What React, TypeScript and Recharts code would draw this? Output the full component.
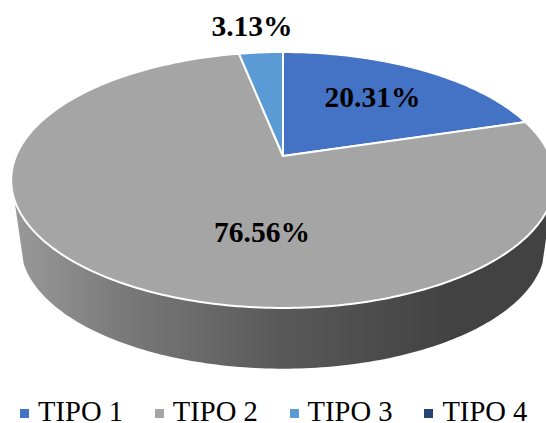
import React from "react";
import { PieChart, Pie, Cell, Legend } from "recharts";

const categories = ["TIPO 1", "TIPO 2", "TIPO 3", "TIPO 4"];
const shares = [20.31, 76.56, 3.13, 0];
const colors = ["#4472C4", "#A5A5A5", "#5B9BD5", "#264478"];

const tableData = categories.map((name, i) => ({ name, value: shares[i] }));

const FONT = "'Liberation Serif', 'Times New Roman', serif";

// Perspective of the tilted disc
const TILT = 0.1875;
const SQUASH = 0.4625;
const BASE_SCALE = 0.965;
const BASE_DROP = 66;
// The wall's side edges sit where the disc's rim turns away from the viewer
const WALL_EDGE = -0.32;

// Label offsets from the pie centre
const labelOffsets = [
  { dx: 89.5, dy: -49.5 },
  { dx: -21, dy: 85.5 },
  { dx: -31, dy: -120.5 },
];

const project = (cx: number, cy: number, r: number, deg: number) => {
  const a = (deg * Math.PI) / 180;
  const u = Math.cos(a);
  const v = Math.sin(a);
  const w = 1 + TILT * v;
  return { x: cx + (r * u) / w, y: cy - (r * SQUASH * v) / w, v };
};

const sweep = (from: number, to: number) => {
  const steps = Math.max(2, Math.ceil(Math.abs(to - from)));
  return Array.from({ length: steps + 1 }, (_, i) => from + ((to - from) * i) / steps);
};

const toPath = (pts: { x: number; y: number }[]) =>
  pts.map((p, i) => `${i ? "L" : "M"}${p.x.toFixed(2)},${p.y.toFixed(2)}`).join(" ") + " Z";

// Sector drawn on the tilted disc, with its outer wall underneath
const DiscSector = (props: any) => {
  const { cx, cy, outerRadius, startAngle, endAngle, fill } = props;
  if (startAngle === endAngle) return null;
  const angles = sweep(startAngle, endAngle);
  const rim = angles.map((a) => project(cx, cy, outerRadius, a));
  const front = angles.filter((a) => project(cx, cy, outerRadius, a).v <= WALL_EDGE);
  const wall = front.length
    ? [
        ...front.map((a) => project(cx, cy, outerRadius, a)),
        ...[...front].reverse().map((a) => project(cx, cy + BASE_DROP, outerRadius * BASE_SCALE, a)),
      ]
    : null;
  return (
    <g>
      {wall && <path d={toPath(wall)} fill="url(#wallShade)" stroke="none" />}
      <path
        d={toPath([{ x: cx, y: cy }, ...rim])}
        fill={fill}
        stroke="#ffffff"
        strokeWidth={2}
        strokeLinejoin="round"
      />
    </g>
  );
};

const renderValue = (props: any) => {
  const { cx, cy, index, value } = props;
  const offset = labelOffsets[index];
  if (!offset || !value) return null;
  return (
    <text
      x={cx + offset.dx}
      y={cy + offset.dy}
      textAnchor="middle"
      fontFamily={FONT}
      fontWeight="bold"
      fontSize={29.5}
      fill="#000000"
    >
      {value.toFixed(2)}%
    </text>
  );
};

const renderLegend = () => (
  <div style={{ position: "relative", width: 546, height: 28 }}>
    {categories.map((name, i) => (
      <div key={name} style={{ position: "absolute", left: 20 + i * 134.8, top: 0, height: 28 }}>
        <span
          style={{
            position: "absolute",
            left: 0,
            top: 14,
            width: 9,
            height: 9,
            background: colors[i],
          }}
        />
        <span
          style={{
            position: "absolute",
            left: 18,
            top: 5,
            fontFamily: FONT,
            fontSize: 28.6,
            lineHeight: "23px",
            color: "#000000",
            whiteSpace: "nowrap",
          }}
        >
          {name}
        </span>
      </div>
    ))}
  </div>
);

export default function App() {
  return (
    <div style={{ position: "absolute", left: 0, top: 0, width: 546, height: 423, overflow: "hidden", background: "#ffffff" }}>
      <PieChart width={546} height={423} margin={{ top: 0, right: 0, bottom: 0, left: 0 }}>
        <defs>
          <linearGradient id="wallShade" gradientUnits="userSpaceOnUse" x1="12" y1="0" x2="450" y2="0">
            <stop offset="0%" stopColor="#9a9a9a" />
            <stop offset="25%" stopColor="#7a7a7a" />
            <stop offset="60%" stopColor="#5a5a5a" />
            <stop offset="100%" stopColor="#424242" />
          </linearGradient>
        </defs>
        <Pie
          data={tableData}
          dataKey="value"
          nameKey="name"
          cx={283}
          cy={156}
          innerRadius={0}
          outerRadius={267}
          startAngle={90}
          endAngle={-270}
          stroke="none"
          shape={DiscSector}
          label={renderValue}
          labelLine={false}
          isAnimationActive={false}
        >
          {tableData.map((d, i) => (
            <Cell key={d.name} fill={colors[i]} />
          ))}
        </Pie>
        <Legend
          content={renderLegend}
          wrapperStyle={{ left: 0, top: 395, width: 546, height: 28 }}
        />
      </PieChart>
    </div>
  );
}
